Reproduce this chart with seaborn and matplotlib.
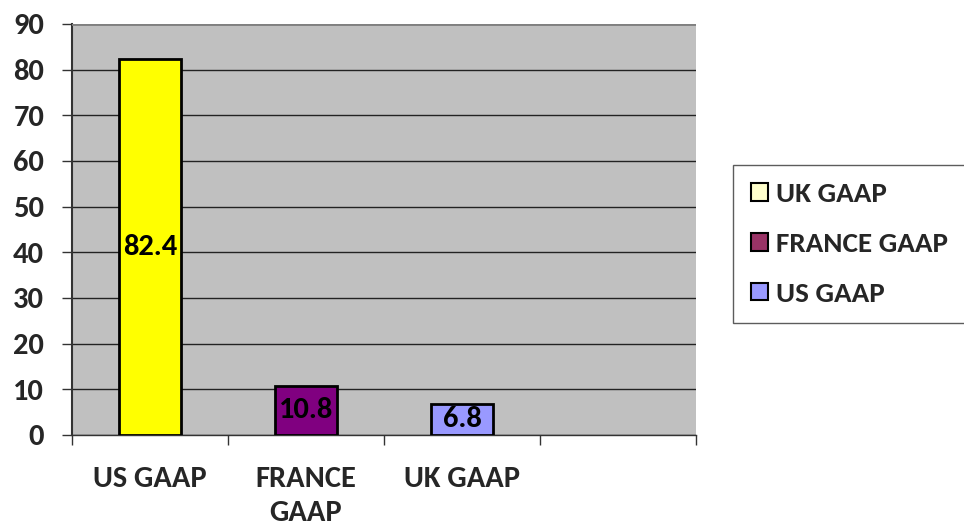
import matplotlib
matplotlib.use("Agg")
import matplotlib.pyplot as plt
import seaborn as sns
import pandas as pd
from matplotlib.patches import Patch

categories = ["US GAAP", "FRANCE\nGAAP", "UK GAAP", " "]
values = [82.4, 10.8, 6.8]
bar_colors = ["#FFFF00", "#800080", "#9999FF"]
legend_labels = ["UK GAAP", "FRANCE GAAP", "US GAAP"]
legend_colors = ["#FFFFCC", "#993366", "#9999FF"]
y_ticks = [0, 10, 20, 30, 40, 50, 60, 70, 80, 90]

sns.set_style("white")
plt.rcParams['font.family'] = ['Carlito', 'DejaVu Sans']
plt.rcParams['font.weight'] = 'bold'

df = pd.DataFrame({"cat": categories[:3], "val": values})

fig = plt.figure(figsize=(9.64, 5.27), dpi=100)
ax = fig.add_axes([0.0747, 0.1746, 0.6473, 0.7799])
ax.set_facecolor("#C0C0C0")

sns.barplot(data=df, x="cat", y="val", hue="cat", order=categories,
            palette=bar_colors + ["#FFFFFF"], hue_order=categories, saturation=1,
            width=0.4, edgecolor="black", linewidth=2, legend=False, ax=ax, zorder=3)

for c in ax.containers:
    labs = [f"{v:.1f}" if v == v else "" for v in c.datavalues]
    ax.bar_label(c, labels=labs, label_type="center", fontsize=22, fontweight="bold",
                 color="black", zorder=5)

ax.set_xlim(-0.5, 3.5)
ax.set_ylim(0, 90)
ax.set_yticks(y_ticks)
ax.set_yticklabels([str(v) for v in y_ticks], fontsize=22, fontweight="bold")
ax.yaxis.grid(True, color="#222222", linewidth=1)
ax.set_axisbelow(True)
ax.set_xlabel("")
ax.set_ylabel("")

ax.set_xticks([0, 1, 2, 3])
ax.set_xticklabels(categories, fontsize=22, fontweight="bold", va="top", linespacing=1.4)
ax.set_xticks([-0.5, 0.5, 1.5, 2.5, 3.5], minor=True)
ax.tick_params(axis="x", which="major", length=0, pad=22)
ax.tick_params(axis="x", which="minor", length=7, width=1, color="#333333", direction="out", bottom=True)
ax.tick_params(axis="y", length=7, width=1, color="#333333", direction="out", left=True, pad=13)

for s in ["top", "right"]:
    ax.spines[s].set_visible(False)
ax.spines["left"].set_color("#333333")
ax.spines["left"].set_linewidth(1.5)
ax.spines["bottom"].set_color("#333333")
ax.spines["bottom"].set_linewidth(1)
ax.axhline(90, color="#808080", linewidth=2, zorder=4)

handles = [Patch(facecolor=col, edgecolor="black", linewidth=1.5) for col in legend_colors]
leg = fig.legend(handles, legend_labels, loc="upper left",
                 bbox_to_anchor=(733 / 964, 1 - 165 / 527), frameon=True, fancybox=False,
                 edgecolor="#333333", prop={"size": 21, "weight": "bold"},
                 handlelength=0.6, handleheight=0.55, handletextpad=0.28,
                 labelspacing=0.88, borderpad=0.6, borderaxespad=0)
leg.get_frame().set_linewidth(1)

fig.savefig("out.png", dpi=100)
